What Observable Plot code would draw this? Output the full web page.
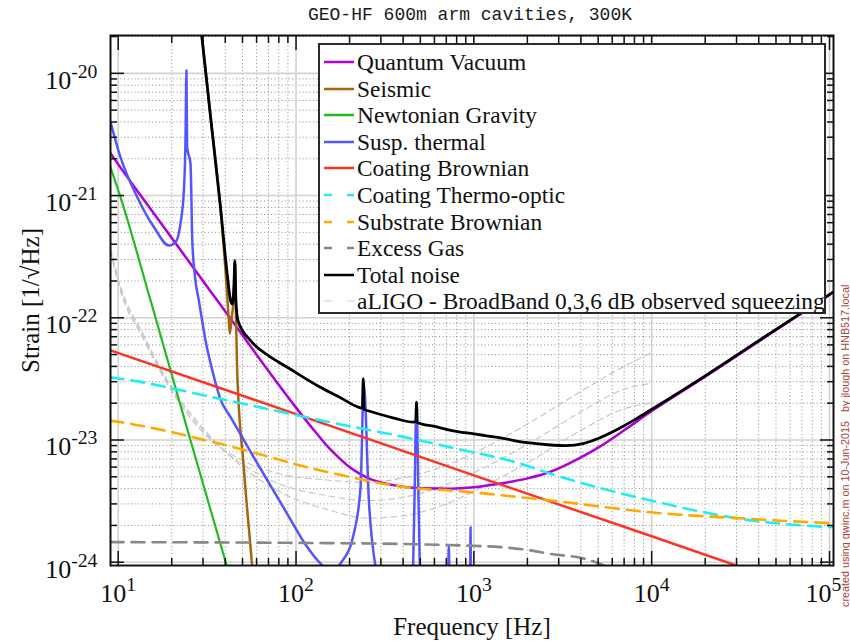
<!DOCTYPE html>
<html><head><meta charset="utf-8">
<script src="https://cdn.jsdelivr.net/npm/d3@7"></script>
<script src="https://cdn.jsdelivr.net/npm/@observablehq/plot@0.6"></script>
<style>
body{margin:0;background:#fff;}
#wrap{position:relative;width:850px;height:641px;overflow:hidden;background:#fff;}
#title{position:absolute;left:45px;top:0;width:850px;height:30px;line-height:30px;text-align:center;font-family:"Liberation Mono","DejaVu Sans Mono",monospace;font-size:18px;color:#1a1a1a;}
#chart{position:absolute;left:0;top:30px;}
#legend{position:absolute;left:318px;top:43px;width:508px;height:271px;box-sizing:border-box;border:2px solid #2a2a2a;background:#fff;font-family:"Liberation Serif","Times New Roman",serif;font-size:23.4px;color:#111;}
.lrow{position:absolute;left:3px;height:26px;line-height:26px;white-space:nowrap;}
.lrow svg{position:absolute;left:0;top:8px;}
.lrow span{position:absolute;left:34px;top:0;}
#credit{position:absolute;left:839px;top:250px;height:357px;width:12px;writing-mode:vertical-rl;transform:rotate(180deg);font-family:"Liberation Sans",Arial,sans-serif;font-size:10.8px;color:#a8443a;white-space:nowrap;line-height:12px;}
</style></head><body>
<div id="wrap">
<div id="title">GEO-HF 600m arm cavities, 300K</div>
<div id="chart"></div>
<div id="legend"></div>
<div id="credit">created using gwinc.m on 10-Jun-2015&nbsp;&nbsp;&nbsp;by jlough on HNB517.local</div>
</div>
<script>
// ---------- data (frequency in Hz, strain in 1/sqrt(Hz)) ----------
const quantumF = [9.05, 10, 15, 20, 30, 36, 50, 70, 100, 115, 130, 150, 180, 200, 230, 260, 300, 400, 500, 740, 1000, 1413, 2000, 2700, 4000, 5164, 7000, 9863, 20000, 40000, 60420, 105300];
const quantumH = [2.22e-21, 1.8e-21, 8.0e-22, 4.5e-22, 2.0e-22, 1.39e-22, 7.2e-23, 3.67e-23, 1.84e-23, 1.42e-23, 1.14e-23, 8.9e-24, 6.85e-24, 6.0e-24, 5.25e-24, 4.8e-24, 4.5e-24, 4.15e-24, 4.03e-24, 4.0e-24, 4.1e-24, 4.4e-24, 4.85e-24, 5.5e-24, 7.2e-24, 8.9e-24, 1.2e-23, 1.7e-23, 3.3e-23, 6.4e-23, 9.5e-23, 1.62e-22];

const seismicF = [29.0, 29.7, 33, 37.6, 40.6, 41.6, 42.4, 43.5, 44.7, 45.3, 45.8, 46.6, 50.8, 56.7, 58];
const seismicH = [2.5e-20, 1.86e-20, 4.5e-21, 7.9e-22, 1.9e-22, 1.1e-22, 7.4e-23, 1.0e-22, 1.6e-22, 2.9e-22, 1.3e-22, 3.9e-23, 6.0e-24, 9.1e-25, 6e-25];

const newtonF = [9.05, 10.3, 15.2, 25, 41.0, 45];
const newtonH = [1.7e-21, 9.7e-22, 1.39e-22, 1.1e-23, 9.1e-25, 5.7e-25];

const suspF = [9.05, 10.3, 12.8, 15.9, 19.3, 21.0, 22.4, 23.4, 23.9, 24.2, 24.4, 25.5, 26.1, 27.0, 28.5, 31.0, 34.0, 37.6, 42.7, 57.9, 89.2, 115.6, 135, 156, 180, 211, 230.6, 240.7, 256.8, 280, 300,
               450, 462, 476, 490, 502, 700, 716, 723, 730, 940, 952, 958, 964, 1000];
const suspH = [4.0e-21, 2.06e-21, 9.7e-22, 5.5e-22, 3.9e-22, 4.16e-22, 5.9e-22, 1.1e-21, 2.8e-21, 1.06e-20, 2.5e-21, 1.82e-21, 4.3e-22, 2.2e-22, 1.35e-22, 6.5e-23, 3.6e-23, 2.15e-23, 1.55e-23, 7.2e-24, 2.49e-24, 1.33e-24, 1.0e-24, 8.5e-25, 1.0e-24, 1.7e-24, 4.1e-24, 2.9e-23, 3.2e-24, 9.1e-25, 6e-25,
               6e-25, 2.5e-24, 2.0e-23, 2.5e-24, 6e-25, 6e-25, 7e-25, 1.35e-24, 7e-25, 6e-25, 7e-25, 1.93e-24, 7e-25, 6e-25];

const coatBrF = [9.05, 100, 1000, 10000, 105300];
const coatBrH = [5.41e-23, 1.63e-23, 5.14e-24, 1.63e-24, 5.0e-25];

const coatToF = [9.05, 10.3, 37.6, 137, 501, 740, 1830, 2700, 9863, 36000, 105300];
const coatToH = [3.25e-23, 3.17e-23, 2.17e-23, 1.45e-23, 9.9e-24, 8.7e-24, 6.4e-24, 5.3e-24, 3.2e-24, 2.2e-24, 1.93e-24];

const subBrF = [9.05, 10.3, 37.6, 137, 501, 740, 1830, 2700, 9863, 36000, 105300];
const subBrH = [1.44e-23, 1.4e-23, 9.3e-24, 5.64e-24, 3.99e-24, 3.86e-24, 3.4e-24, 3.2e-24, 2.56e-24, 2.26e-24, 2.08e-24];

const gasF = [9.05, 100, 500, 1000, 1413, 2000, 2700, 4160, 5627, 8000];
const gasH = [1.46e-24, 1.44e-24, 1.4e-24, 1.36e-24, 1.33e-24, 1.26e-24, 1.17e-24, 1.07e-24, 9.1e-25, 6.5e-25];

const totalF = [29.0, 29.7, 33, 37.6, 41.0, 42.8, 43.8, 44.8, 45.3, 45.9, 47.1, 55.5, 70, 89.2, 137, 180, 225.6, 236, 238.8, 241.5, 260, 350, 460, 472, 476, 480, 600, 740, 1000, 1413, 2000, 2700, 3300, 4160, 5000, 6400, 8000, 9863, 20000, 40000, 60420, 105300];
const totalH = [2.5e-20, 1.86e-20, 4.5e-21, 8.0e-22, 2.29e-22, 1.39e-22, 1.3e-22, 1.9e-22, 2.94e-22, 1.4e-22, 9.5e-23, 6.5e-23, 4.9e-23, 3.94e-23, 2.7e-23, 2.2e-23, 1.85e-23, 1.82e-23, 3.17e-23, 1.78e-23, 1.72e-23, 1.52e-23, 1.4e-23, 1.42e-23, 2.04e-23, 1.39e-23, 1.29e-23, 1.2e-23, 1.12e-23, 1.04e-23, 9.5e-24, 9.1e-24, 9.0e-24, 9.4e-24, 1.03e-23, 1.22e-23, 1.46e-23, 1.76e-23, 3.35e-23, 6.5e-23, 9.6e-23, 1.63e-22];

const aligoF = [9.05, 10, 14, 20, 30, 50, 80, 150, 250, 400, 700, 1000, 2000, 4000, 7000, 9800];
const aligo0H = [3.5e-22, 1.9e-22, 6.5e-23, 2.5e-23, 1.15e-23, 6.8e-24, 5.3e-24, 4.7e-24, 4.5e-24, 4.9e-24, 6.2e-24, 7.8e-24, 1.35e-23, 2.5e-23, 4.0e-23, 5.1e-23];
const aligo3H = [3.6e-22, 2.0e-22, 6.8e-23, 2.6e-23, 1.2e-23, 6.3e-24, 4.4e-24, 3.5e-24, 3.2e-24, 3.4e-24, 4.3e-24, 5.4e-24, 9.2e-24, 1.7e-23, 2.6e-23, 2.9e-23];
const aligo6H = [3.7e-22, 2.1e-22, 7.1e-23, 2.7e-23, 1.25e-23, 6.0e-24, 3.8e-24, 2.7e-24, 2.3e-24, 2.4e-24, 3.0e-24, 3.8e-24, 6.5e-24, 1.2e-23, 1.8e-23, 2.0e-23];

const legendNames = ["Quantum Vacuum", "Seismic", "Newtonian Gravity", "Susp. thermal", "Coating Brownian", "Coating Thermo-optic", "Substrate Brownian", "Excess Gas", "Total noise", "aLIGO - BroadBand 0,3,6 dB observed squeezing"];
const legendColors = ["#b000d8", "#a5660f", "#22bb22", "#5555ff", "#ff3322", "#22eeee", "#ffaa00", "#888888", "#000000", "#cccccc"];
const legendDash = [null, null, null, null, null, "8,15", "8,15", "8,15", null, "8,15"];

const xMajor = [10, 100, 1000, 10000, 100000];
const yMajor = [1e-24, 1e-23, 1e-22, 1e-21, 1e-20];
const mantissas = [2, 3, 4, 5, 6, 7, 8, 9];
const xDecades = [10, 100, 1000, 10000];
const yDecades = [1e-24, 1e-23, 1e-22, 1e-21, 1e-20];
const xMinor = xDecades.flatMap(d => mantissas.map(m => m * d));
const yMinor = yDecades.flatMap(d => mantissas.map(m => m * d)).filter(v => v < 2.05e-20);

// ---------- table ----------
function rowsOf(key, F, H) { return F.map((f, i) => ({key, f, h: H[i]})); }
const series = [
  {rows: rowsOf("a0", aligoF, aligo0H), stroke: "#c4c4c4", w: 1.1, dash: "6,4"},
  {rows: rowsOf("a3", aligoF, aligo3H), stroke: "#c4c4c4", w: 1.1, dash: "6,4"},
  {rows: rowsOf("a6", aligoF, aligo6H), stroke: "#c4c4c4", w: 1.1, dash: "6,4"},
  {rows: rowsOf("q", quantumF, quantumH), stroke: legendColors[0], w: 2.5},
  {rows: rowsOf("s", seismicF, seismicH), stroke: legendColors[1], w: 2.5},
  {rows: rowsOf("n", newtonF, newtonH), stroke: legendColors[2], w: 2.2},
  {rows: rowsOf("u", suspF, suspH), stroke: legendColors[3], w: 2.5},
  {rows: rowsOf("cb", coatBrF, coatBrH), stroke: legendColors[4], w: 2.5},
  {rows: rowsOf("ct", coatToF, coatToH), stroke: legendColors[5], w: 2.6, dash: "13,8"},
  {rows: rowsOf("sb", subBrF, subBrH), stroke: legendColors[6], w: 2.6, dash: "13,8"},
  {rows: rowsOf("g", gasF, gasH), stroke: legendColors[7], w: 2.6, dash: "13,8"},
  {rows: rowsOf("t", totalF, totalH), stroke: legendColors[8], w: 2.8}
];

const axisStyle = {stroke: "#111", strokeWidth: 1.5, fill: "none", label: null};
const expFmt = d => "10^" + Math.round(Math.log10(d));
const plot = Plot.plot({
  width: 850, height: 611,
  marginTop: 5, marginLeft: 110, marginRight: 17, marginBottom: 76,
  style: {background: "transparent", fontFamily: "'Liberation Serif','Times New Roman',serif", color: "#111", overflow: "visible"},
  x: {type: "log", domain: [9.05, 1.053e5]},
  y: {type: "log", domain: [9.4e-25, 2.04e-20]},
  marks: [
    Plot.gridX(xMinor, {stroke: "#9a9a9a", strokeOpacity: 1, strokeWidth: 1, strokeDasharray: "1.2,2.3"}),
    Plot.gridY(yMinor, {stroke: "#9a9a9a", strokeOpacity: 1, strokeWidth: 1, strokeDasharray: "1.2,2.3"}),
    Plot.gridX(xMajor, {stroke: "#d2d2d2", strokeOpacity: 1, strokeWidth: 1.6}),
    Plot.gridY(yMajor, {stroke: "#d2d2d2", strokeOpacity: 1, strokeWidth: 1.6}),
    ...series.map(s => Plot.line(s.rows, {x: "f", y: "h", stroke: s.stroke, strokeWidth: s.w, strokeDasharray: s.dash, curve: "monotone-x", clip: true, strokeLinejoin: "round"})),
    Plot.frame({stroke: "#111", strokeWidth: 2}),
    Plot.axisX(xMajor, {anchor: "bottom", tickSize: -14, ...axisStyle}),
    Plot.axisX(xMajor, {anchor: "top", tickSize: -14, ...axisStyle}),
    Plot.axisX(xMinor, {anchor: "bottom", tickSize: -7, ...axisStyle}),
    Plot.axisX(xMinor, {anchor: "top", tickSize: -7, ...axisStyle}),
    Plot.axisY(yMajor, {anchor: "left", tickSize: -14, ...axisStyle}),
    Plot.axisY(yMajor, {anchor: "right", tickSize: -14, ...axisStyle}),
    Plot.axisY(yMinor, {anchor: "left", tickSize: -7, ...axisStyle}),
    Plot.axisY(yMinor, {anchor: "right", tickSize: -7, ...axisStyle}),
    Plot.axisX(xMajor.slice(0, 4), {anchor: "bottom", tickSize: 0, tickPadding: 18, fontSize: 26, fill: "#111", label: null, tickFormat: expFmt}),
    Plot.axisX(xMajor.slice(4), {anchor: "bottom", tickSize: 0, tickPadding: 18, fontSize: 26, fill: "#111", label: null, dx: -6, tickFormat: expFmt}),
    Plot.axisY(yMajor, {anchor: "left", tickSize: 0, tickPadding: 13, fontSize: 26, fill: "#111", label: null, dy: 7, tickFormat: expFmt}),
    Plot.text(["Frequency [Hz]"], {text: d => d, frameAnchor: "bottom", lineAnchor: "middle", textAnchor: "middle", dy: 61, fontSize: 25, fill: "#111"}),
    Plot.text(["Strain [1/\u221AHz]"], {text: d => d, frameAnchor: "left", lineAnchor: "middle", textAnchor: "middle", dx: -80, rotate: -90, fontSize: 25, fill: "#111"})
  ]
});
document.getElementById("chart").appendChild(plot);

// superscript exponents in tick labels
const NS = "http://www.w3.org/2000/svg";
plot.querySelectorAll("text").forEach(t => {
  const m = t.textContent.match(/^10\^(-?\d+)$/);
  if (!m) return;
  t.textContent = "";
  const a = document.createElementNS(NS, "tspan"); a.textContent = "10";
  const b = document.createElementNS(NS, "tspan"); b.textContent = m[1];
  b.setAttribute("dy", "-0.55em"); b.setAttribute("font-size", "0.76em");
  t.append(a, b);
});

// legend
const lg = document.getElementById("legend");
legendNames.forEach((name, i) => {
  const r = document.createElement("div");
  r.className = "lrow";
  r.style.top = (4 + i * 26.6) + "px";
  const w = i === 9 ? 1.2 : 2.5;
  const dash = legendDash[i] ? `stroke-dasharray="${legendDash[i]}"` : "";
  r.innerHTML = `<svg width="32" height="10"><line x1="1" y1="5" x2="31" y2="5" stroke="${legendColors[i]}" stroke-width="${w}" ${dash}/></svg><span>${name}</span>`;
  lg.appendChild(r);
});
</script>
</body></html>
